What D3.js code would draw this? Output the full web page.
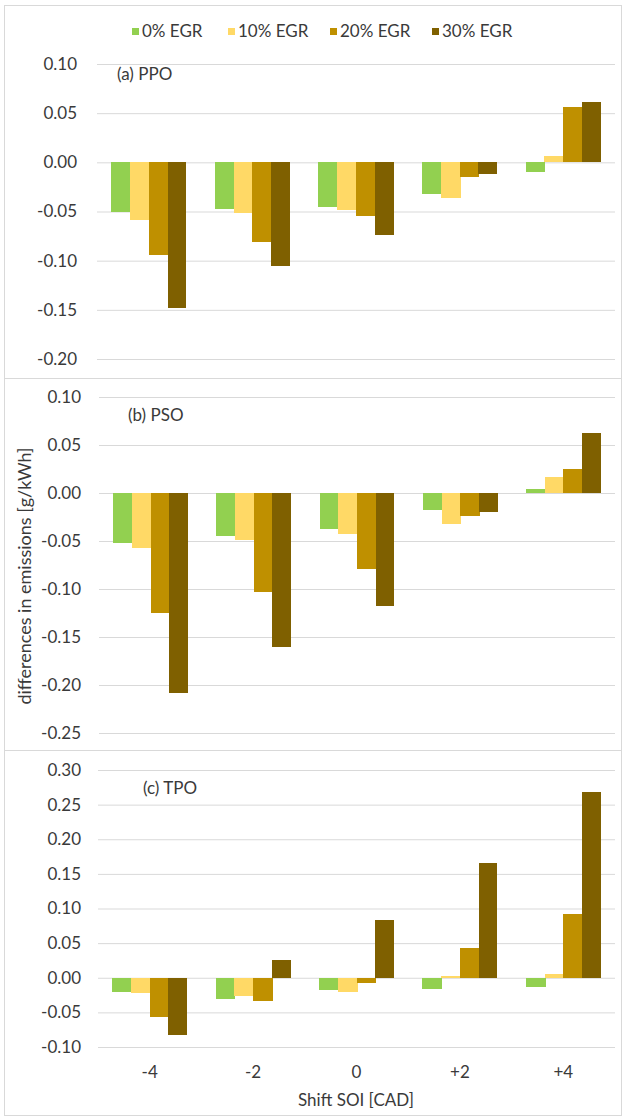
<!DOCTYPE html>
<html lang="en">
<head>
<meta charset="UTF-8">
<title>Shift SOI emissions</title>
<script src="https://d3js.org/d3.v7.min.js"></script>
<style>
  body { margin: 0; background: #fff; }
  svg text { font-family: Lato, "Open Sans", sans-serif; fill: #3a3a3a; }
  .grid line { stroke: #d9d9d9; stroke-width: 1; }
  .grid .domain { display: none; }
</style>
</head>
<body>
<div id="chart"></div>
<script>
// categories and series
const shifts = ["-4", "-2", "0", "+2", "+4"];
const egrLevels = ["0% EGR", "10% EGR", "20% EGR", "30% EGR"];
const colors = ["#92d050", "#ffd966", "#bf9000", "#7f6000"];

// (a) PPO, one array per EGR level
const ppo0 = [-0.050, -0.047, -0.045, -0.032, -0.010];
const ppo10 = [-0.059, -0.052, -0.048, -0.036, 0.006];
const ppo20 = [-0.094, -0.081, -0.055, -0.015, 0.056];
const ppo30 = [-0.148, -0.105, -0.074, -0.012, 0.061];

// (b) PSO
const pso0 = [-0.052, -0.045, -0.038, -0.018, 0.004];
const pso10 = [-0.057, -0.049, -0.043, -0.032, 0.017];
const pso20 = [-0.125, -0.103, -0.079, -0.024, 0.025];
const pso30 = [-0.208, -0.160, -0.118, -0.020, 0.062];

// (c) TPO
const tpo0 = [-0.020, -0.031, -0.018, -0.016, -0.013];
const tpo10 = [-0.022, -0.027, -0.020, 0.002, 0.006];
const tpo20 = [-0.057, -0.033, -0.007, 0.043, 0.092];
const tpo30 = [-0.082, 0.025, 0.083, 0.165, 0.268];

// y tick values per panel
const ticksA = [0.10, 0.05, 0.00, -0.05, -0.10, -0.15, -0.20];
const ticksB = [0.10, 0.05, 0.00, -0.05, -0.10, -0.15, -0.20, -0.25];
const ticksC = [0.30, 0.25, 0.20, 0.15, 0.10, 0.05, 0.00, -0.05, -0.10];

const W = 626, H = 1119;
const svg = d3.select("#chart").append("svg")
    .attr("width", W)
    .attr("height", H);

// panel layout
const panels = [
  {title: "(a) PPO", series: [ppo0, ppo10, ppo20, ppo30], ticks: ticksA,
   box: [5, 378], left: 97, yTop: 64, yBot: 359, pad: 20, titleX: 117, titleY: 80},
  {title: "(b) PSO", series: [pso0, pso10, pso20, pso30], ticks: ticksB,
   box: [378, 750], left: 99, yTop: 397, yBot: 733, pad: 18, titleX: 128, titleY: 421},
  {title: "(c) TPO", series: [tpo0, tpo10, tpo20, tpo30], ticks: ticksC,
   box: [750, 1115], left: 98, yTop: 770, yBot: 1047, pad: 17, titleX: 143, titleY: 794}
];
const right = 615;

// panel frames
panels.forEach(p => {
  svg.append("rect")
    .attr("x", 4.5).attr("y", p.box[0] + 0.5)
    .attr("width", 617).attr("height", p.box[1] - p.box[0])
    .attr("fill", "none")
    .attr("stroke", "#d9d9d9");
});

panels.forEach(p => {
  const x = d3.scaleBand()
      .domain(shifts)
      .range([p.left, right])
      .paddingInner(0.276)
      .paddingOuter(0.138);

  const xSub = d3.scaleBand()
      .domain(d3.range(egrLevels.length))
      .range([0, x.bandwidth()]);

  const y = d3.scaleLinear()
      .domain([d3.min(p.ticks), d3.max(p.ticks)])
      .range([p.yBot, p.yTop]);

  // gridlines + tick labels
  const g = svg.append("g")
      .attr("class", "grid")
      .attr("transform", `translate(${p.left},0)`)
      .call(d3.axisLeft(y)
        .tickValues(p.ticks)
        .tickSize(-(right - p.left))
        .tickPadding(p.pad)
        .tickFormat(d3.format(".2f")));
  g.selectAll("text")
    .attr("font-size", 17)
    .attr("fill", "#3a3a3a")
    .text(d => d3.format(".2f")(d).replace("−", "-"));

  // bars; each one runs 1px under its right neighbour so no seam shows
  const edge = (i, si) => Math.round(x(shifts[i]) + xSub(si));
  p.series.forEach((vals, si) => {
    const extra = si < egrLevels.length - 1 ? 1 : 0;
    svg.append("g")
      .selectAll("rect")
      .data(vals)
      .join("rect")
        .attr("x", (d, i) => edge(i, si))
        .attr("width", (d, i) => Math.round(x(shifts[i]) + xSub(si) + xSub.bandwidth()) - edge(i, si) + extra)
        .attr("y", d => y(Math.max(0, d)))
        .attr("height", d => Math.abs(y(d) - y(0)))
        .attr("fill", colors[si])
        .attr("shape-rendering", "crispEdges");
  });

  svg.append("text")
    .attr("x", p.titleX)
    .attr("y", p.titleY)
    .attr("font-size", 17)
    .text(p.title);

  p.x = x;
});

// category labels under the last panel
const lastX = panels[2].x;
svg.append("g")
  .selectAll("text")
  .data(shifts)
  .join("text")
    .attr("x", d => lastX(d) + lastX.bandwidth() / 2)
    .attr("y", 1078)
    .attr("text-anchor", "middle")
    .attr("font-size", 17)
    .text(d => d);

svg.append("text")
  .attr("x", 356)
  .attr("y", 1106)
  .attr("text-anchor", "middle")
  .attr("font-size", 17)
  .text("Shift SOI [CAD]");

svg.append("text")
  .attr("transform", "translate(31,576) rotate(-90)")
  .attr("text-anchor", "middle")
  .attr("font-size", 18)
  .text("differences in emissions [g/kWh]");

// legend
const legendX = [132, 228, 330, 432];
const legend = svg.append("g");
egrLevels.forEach((name, i) => {
  legend.append("rect")
    .attr("x", legendX[i]).attr("y", 28)
    .attr("width", 7).attr("height", 7)
    .attr("fill", colors[i]);
  legend.append("text")
    .attr("x", legendX[i] + 10)
    .attr("y", 37)
    .attr("font-size", 17)
    .text(name);
});
</script>
</body>
</html>
